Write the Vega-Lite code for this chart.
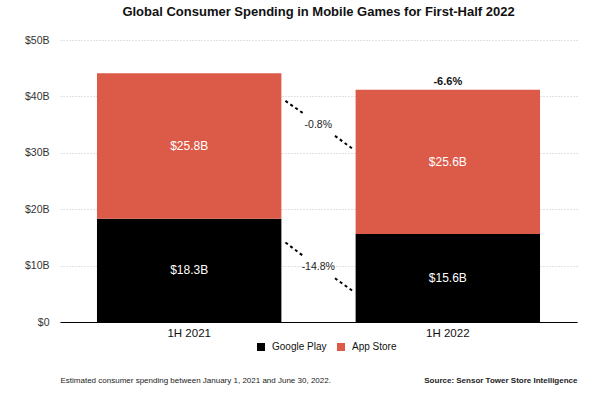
{
  "$schema": "https://vega.github.io/schema/vega-lite/v6.json",
  "autosize": "none",
  "width": 517,
  "height": 282,
  "padding": {"left": 60, "top": 40, "right": 23, "bottom": 77},
  "background": "white",
  "config": {
    "font": "Liberation Sans",
    "view": {"stroke": null}
  },
  "title": {
    "text": "Global Consumer Spending in Mobile Games for First-Half 2022",
    "fontSize": 13,
    "fontWeight": "bold",
    "color": "#111111",
    "anchor": "middle",
    "offset": 16
  },
  "data": {
    "values": [
      {"period": "1H 2021", "store": "Google Play", "value": 18.3, "label": "$18.3B"},
      {"period": "1H 2021", "store": "App Store", "value": 25.8, "label": "$25.8B"},
      {"period": "1H 2022", "store": "Google Play", "value": 15.6, "label": "$15.6B"},
      {"period": "1H 2022", "store": "App Store", "value": 25.6, "label": "$25.6B"}
    ]
  },
  "encoding": {
    "x": {
      "field": "period",
      "type": "nominal",
      "scale": {"paddingInner": 0.287, "paddingOuter": 0.143},
      "axis": {
        "title": "Estimated consumer spending between January 1, 2021 and June 30, 2022.",
        "titleFontSize": 8,
        "titleFontWeight": "normal",
        "titleColor": "#222222",
        "titleAnchor": "start",
        "titleAlign": "left",
        "titleX": 0,
        "titleY": 58,
        "titleBaseline": "middle",
        "labelAngle": 0,
        "labelFontSize": 11.5,
        "labelColor": "#111111",
        "labelPadding": 5,
        "ticks": false,
        "domainColor": "#000000",
        "domainWidth": 1
      }
    }
  },
  "layer": [
    {
      "mark": {"type": "bar"},
      "encoding": {
        "y": {
          "field": "value",
          "type": "quantitative",
          "stack": "zero",
          "scale": {"domain": [0, 50]},
          "axis": {
            "values": [0, 10, 20, 30, 40, 50],
            "labelExpr": "datum.value == 0 ? '$0' : '$' + datum.value + 'B'",
            "labelFontSize": 10.5,
            "labelColor": "#333333",
            "labelPadding": 11,
            "ticks": false,
            "domain": false,
            "grid": true,
            "gridColor": "#c4c4c4",
            "gridDash": [1, 2],
            "gridWidth": 1,
            "title": "Source: Sensor Tower Store Intelligence",
            "titleAngle": 0,
            "titleFontSize": 8,
            "titleFontWeight": "bold",
            "titleColor": "#222222",
            "titleAlign": "right",
            "titleBaseline": "middle",
            "titleX": 517,
            "titleY": 340
          }
        },
        "color": {
          "field": "store",
          "type": "nominal",
          "scale": {"domain": ["Google Play", "App Store"], "range": ["#000000", "#DC5A48"]},
          "legend": {
            "title": null,
            "orient": "none",
            "direction": "horizontal",
            "legendX": 196,
            "legendY": 302,
            "symbolType": "square",
            "symbolSize": 64,
            "symbolStrokeWidth": 0,
            "labelFontSize": 10,
            "labelColor": "#111111",
            "columnPadding": 9,
            "labelOffset": 6
          }
        },
        "order": {"field": "store", "sort": "descending"}
      }
    },
    {
      "transform": [
        {"stack": "value", "groupby": ["period"], "sort": [{"field": "store", "order": "descending"}], "as": ["v0", "v1"]},
        {"calculate": "(datum.v0 + datum.v1) / 2", "as": "mid"}
      ],
      "mark": {"type": "text", "color": "white", "fontSize": 12, "baseline": "middle"},
      "encoding": {
        "y": {"field": "mid", "type": "quantitative"},
        "text": {"field": "label"}
      }
    },
    {
      "data": {"values": [{}]},
      "mark": {"type": "text", "fontSize": 11, "fontWeight": "bold", "color": "#111111", "baseline": "middle"},
      "encoding": {
        "x": {"datum": "1H 2022", "type": "nominal"},
        "y": {"datum": 42.6, "type": "quantitative"},
        "text": {"value": "-6.6%"}
      }
    },
    {
      "data": {"values": [{}]},
      "mark": {"type": "text", "fontSize": 10.5, "color": "#222222", "baseline": "middle"},
      "encoding": {
        "x": {"datum": "1H 2021", "type": "nominal", "bandPosition": 1.2},
        "y": {"datum": 35.0, "type": "quantitative"},
        "text": {"value": "-0.8%"}
      }
    },
    {
      "data": {"values": [{}]},
      "mark": {"type": "text", "fontSize": 10.5, "color": "#222222", "baseline": "middle"},
      "encoding": {
        "x": {"datum": "1H 2021", "type": "nominal", "bandPosition": 1.2},
        "y": {"datum": 9.7, "type": "quantitative"},
        "text": {"value": "-14.8%"}
      }
    },
    {
      "data": {"values": [{}]},
      "mark": {"type": "rule", "color": "#000000", "strokeWidth": 2, "strokeDash": [3, 3]},
      "encoding": {
        "x": {"datum": "1H 2021", "type": "nominal", "bandPosition": 1.022},
        "x2": {"datum": "1H 2021", "bandPosition": 1.123},
        "y": {"datum": 39.2, "type": "quantitative"},
        "y2": {"datum": 36.9}
      }
    },
    {
      "data": {"values": [{}]},
      "mark": {"type": "rule", "color": "#000000", "strokeWidth": 2, "strokeDash": [3, 3]},
      "encoding": {
        "x": {"datum": "1H 2022", "type": "nominal", "bandPosition": -0.112},
        "x2": {"datum": "1H 2022", "bandPosition": -0.011},
        "y": {"datum": 33.0, "type": "quantitative"},
        "y2": {"datum": 30.6}
      }
    },
    {
      "data": {"values": [{}]},
      "mark": {"type": "rule", "color": "#000000", "strokeWidth": 2, "strokeDash": [3, 3]},
      "encoding": {
        "x": {"datum": "1H 2021", "type": "nominal", "bandPosition": 1.022},
        "x2": {"datum": "1H 2021", "bandPosition": 1.123},
        "y": {"datum": 14.1, "type": "quantitative"},
        "y2": {"datum": 11.6}
      }
    },
    {
      "data": {"values": [{}]},
      "mark": {"type": "rule", "color": "#000000", "strokeWidth": 2, "strokeDash": [3, 3]},
      "encoding": {
        "x": {"datum": "1H 2022", "type": "nominal", "bandPosition": -0.112},
        "x2": {"datum": "1H 2022", "bandPosition": -0.011},
        "y": {"datum": 7.75, "type": "quantitative"},
        "y2": {"datum": 5.4}
      }
    }
  ]
}
